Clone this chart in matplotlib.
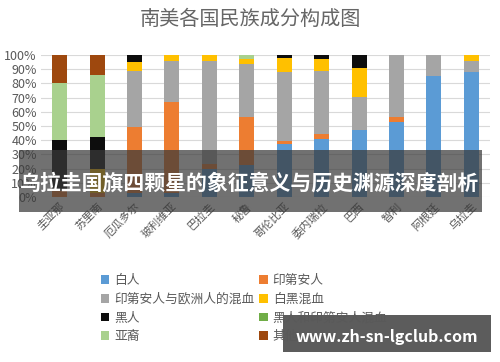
import numpy as np
import matplotlib
matplotlib.use("Agg")
import matplotlib.pyplot as plt
from matplotlib.patches import Rectangle

plt.rcParams['font.family'] = ['Noto Sans CJK SC', 'DejaVu Sans']

countries = ["圭亚那", "苏里南", "厄瓜多尔", "玻利维亚", "巴拉圭", "秘鲁",
             "哥伦比亚", "委内瑞拉", "巴西", "智利", "阿根廷", "乌拉圭"]

# percent of population
white     = [0, 0, 3, 3, 20, 22.5, 37, 41, 47, 52.5, 85, 88]
indian    = [4, 3, 46, 64, 3, 34, 2.5, 3.5, 0, 3.5, 0, 0]
mestizo   = [0, 0, 40, 29, 73, 37.5, 48.5, 44, 23.5, 44, 15, 8]
mulatto   = [0, 17, 6, 4, 4, 3.5, 10, 9, 20.5, 0, 0, 4]
black     = [36, 22, 5, 0, 0, 0, 2, 2.5, 9, 0, 0, 0]
zambo     = [0, 0, 0, 0, 0, 0, 0, 0, 0, 0, 0, 0]
asian     = [40, 44, 0, 0, 0, 2.5, 0, 0, 0, 0, 0, 0]
other     = [20, 14, 0, 0, 0, 0, 0, 0, 0, 0, 0, 0]

series = [
    ("白人", white, "#5B9BD5"),
    ("印第安人", indian, "#ED7D31"),
    ("印第安人与欧洲人的混血", mestizo, "#A5A5A5"),
    ("白黑混血", mulatto, "#FFC000"),
    ("黑人", black, "#0D0D0D"),
    ("黑人和印第安人混血", zambo, "#70AD47"),
    ("亚裔", asian, "#A9D18E"),
    ("其他", other, "#9E480E"),
]

fig = plt.figure(figsize=(5.0, 3.62), dpi=100)
ax = fig.add_axes([0.082, 0.456, 0.898, 0.392])

x = np.arange(len(countries))
bottom = np.zeros(len(countries))
handles = {}
for name, vals, col in series:
    v = np.array(vals) / 100.0
    b = ax.bar(x, v, 0.4, bottom=bottom, color=col, label=name, zorder=3)
    handles[name] = b
    bottom += v

ax.set_ylim(0, 1)
ax.set_xlim(-0.5, len(countries) - 0.5)
ax.set_yticks(np.arange(0, 1.01, 0.1))
ax.set_yticklabels([f"{int(round(t * 100))}%" for t in np.arange(0, 1.01, 0.1)],
                   color="#595959", fontsize=9)
ax.yaxis.grid(True, color="#D9D9D9", linewidth=0.8, zorder=0)
ax.set_xticks(x)
ax.set_xticklabels(countries, rotation=45, ha="right", rotation_mode="anchor",
                   color="#595959", fontsize=8)
for s in ax.spines.values():
    s.set_visible(False)
ax.tick_params(length=0, pad=3)

fig.text(0.5, 0.945, "南美各国民族成分构成图", ha="center", va="center",
         fontsize=14.5, color="#666666")

# legend, filled column-first so rows read like the original
order = ["白人", "印第安人与欧洲人的混血", "黑人", "亚裔",
         "印第安人", "白黑混血", "黑人和印第安人混血", "其他"]
fig.legend([handles[n] for n in order], order, ncol=2,
           loc="upper left", bbox_to_anchor=(0.178, 0.275), frameon=False,
           fontsize=9.2, labelcolor="#595959", handlelength=0.7, handleheight=0.7,
           handletextpad=0.35, columnspacing=0.4, labelspacing=0.45)

# overlay banner and watermark
fig.patches.append(Rectangle((0.038, 0.414), 0.926, 0.172, transform=fig.transFigure,
                             facecolor="#3a3a3a", alpha=0.72, edgecolor="none", zorder=5))
fig.text(0.5, 0.494, "乌拉圭国旗四颗星的象征意义与历史渊源深度剖析", ha="center",
         va="center", fontsize=15, color="white", fontweight="bold", zorder=6)
fig.patches.append(Rectangle((0.566, 0.028), 0.416, 0.102, transform=fig.transFigure,
                             facecolor="#4a4a4a", alpha=0.9, edgecolor="none", zorder=5))
fig.text(0.774, 0.07, "www.zh-sn-lgclub.com", ha="center", va="center",
         fontsize=11.5, color="white", fontweight="bold", zorder=6)

fig.savefig("out.png", dpi=100)
